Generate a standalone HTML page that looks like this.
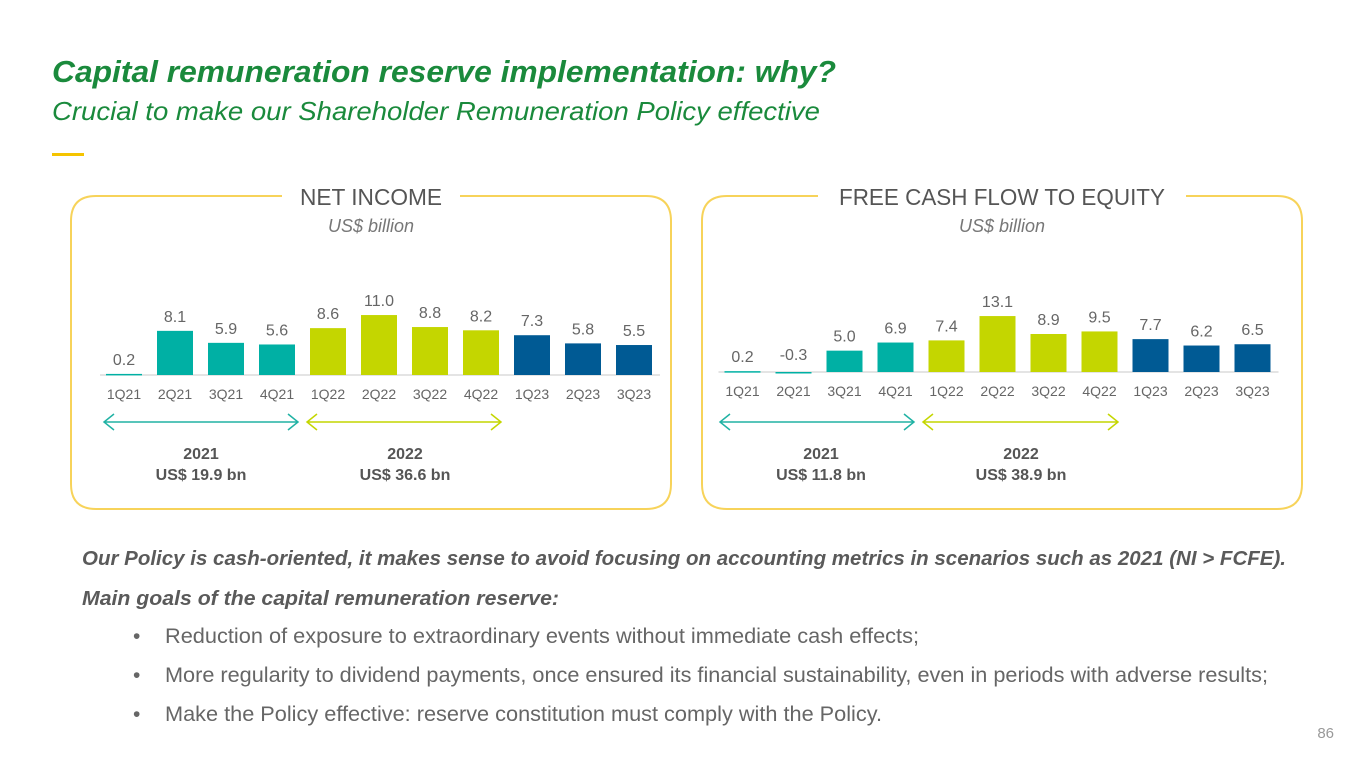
<!DOCTYPE html>
<html><head><meta charset="utf-8"><style>
html,body{margin:0;padding:0;background:#fff;}
svg{display:block;font-family:"Liberation Sans",sans-serif;}
</style></head><body>
<svg id="page" width="1370" height="771" viewBox="0 0 1370 771">
<text x="52" y="82" font-size="31" font-weight="bold" font-style="italic" fill="#1a8a3c" textLength="784" lengthAdjust="spacingAndGlyphs">Capital remuneration reserve implementation: why?</text>
<text x="52" y="120" font-size="26" font-style="italic" fill="#1a8a3c" textLength="768" lengthAdjust="spacingAndGlyphs">Crucial to make our Shareholder Remuneration Policy effective</text>
<rect x="52" y="153" width="32" height="3" fill="#f5c400"/>

<g id="ni">
<path d="M282 196 H96 Q71 196 71 221 V484 Q71 509 96 509 H646 Q671 509 671 484 V221 Q671 196 646 196 H460" fill="none" stroke="#f7d35a" stroke-width="2"/>
<text x="371" y="205" font-size="23" fill="#555" text-anchor="middle" textLength="142" lengthAdjust="spacingAndGlyphs">NET INCOME</text>
<text x="371" y="232" font-size="18" font-style="italic" fill="#777" text-anchor="middle">US$ billion</text>
</g>
<g id="fc">
<path d="M818 196 H727 Q702 196 702 221 V484 Q702 509 727 509 H1277 Q1302 509 1302 484 V221 Q1302 196 1277 196 H1186" fill="none" stroke="#f7d35a" stroke-width="2"/>
<text x="1002" y="205" font-size="23" fill="#555" text-anchor="middle" textLength="326" lengthAdjust="spacingAndGlyphs">FREE CASH FLOW TO EQUITY</text>
<text x="1002" y="232" font-size="18" font-style="italic" fill="#777" text-anchor="middle">US$ billion</text>
</g>

<g>
<g stroke="#20b2a4" stroke-width="1.5" fill="none"><path d="M104 422 H298 M114 414 L104 422 L114 430 M288 414 L298 422 L288 430"/></g>
<g stroke="#c4d600" stroke-width="1.5" fill="none"><path d="M307 422 H501 M317 414 L307 422 L317 430 M491 414 L501 422 L491 430"/></g>
<g stroke="#20b2a4" stroke-width="1.5" fill="none"><path d="M720 422 H914 M730 414 L720 422 L730 430 M904 414 L914 422 L904 430"/></g>
<g stroke="#c4d600" stroke-width="1.5" fill="none"><path d="M923 422 H1118 M933 414 L923 422 L933 430 M1108 414 L1118 422 L1108 430"/></g>
<g font-size="16" font-weight="bold" fill="#555" text-anchor="middle">
<text x="201" y="459">2021</text>
<text x="201" y="480">US$ 19.9 bn</text>
<text x="405" y="459">2022</text>
<text x="405" y="480">US$ 36.6 bn</text>
<text x="821" y="459">2021</text>
<text x="821" y="480">US$ 11.8 bn</text>
<text x="1021" y="459">2022</text>
<text x="1021" y="480">US$ 38.9 bn</text>
</g>
</g>

<g font-size="20" font-weight="bold" font-style="italic" fill="#5a5a5a">
<text x="82" y="565" textLength="1204" lengthAdjust="spacingAndGlyphs">Our Policy is cash-oriented, it makes sense to avoid focusing on accounting metrics in scenarios such as 2021 (NI &gt; FCFE).</text>
<text x="82" y="605" textLength="477" lengthAdjust="spacingAndGlyphs">Main goals of the capital remuneration reserve:</text>
</g>
<g font-size="21" fill="#666">
<text x="133" y="643">•</text>
<text x="165" y="643" textLength="754" lengthAdjust="spacingAndGlyphs">Reduction of exposure to extraordinary events without immediate cash effects;</text>
<text x="133" y="682">•</text>
<text x="165" y="682" textLength="1103" lengthAdjust="spacingAndGlyphs">More regularity to dividend payments, once ensured its financial sustainability, even in periods with adverse results;</text>
<text x="133" y="721">•</text>
<text x="165" y="721" textLength="717" lengthAdjust="spacingAndGlyphs">Make the Policy effective: reserve constitution must comply with the Policy.</text>
</g>
<text x="1334" y="738" font-size="15" fill="#999" text-anchor="end">86</text>
</svg>
<script>
const categories = ["1Q21","2Q21","3Q21","4Q21","1Q22","2Q22","3Q22","4Q22","1Q23","2Q23","3Q23"];
const netIncome = [0.2,8.1,5.9,5.6,8.6,11.0,8.8,8.2,7.3,5.8,5.5];
const fcfe = [0.2,-0.3,5.0,6.9,7.4,13.1,8.9,9.5,7.7,6.2,6.5];
const niLabels = ["0.2","8.1","5.9","5.6","8.6","11.0","8.8","8.2","7.3","5.8","5.5"];
const fcfeLabels = ["0.2","-0.3","5.0","6.9","7.4","13.1","8.9","9.5","7.7","6.2","6.5"];
const yearColors = {"21":"#00b0a4","22":"#c4d600","23":"#005a94"};
const NS = "http://www.w3.org/2000/svg";
const svg = document.getElementById('page');

function drawChart(vals, labels, opt, prefix) {
  const g = document.createElementNS(NS, 'g');
  
  
  svg.appendChild(g);
  const x = i => opt.x0 + i * opt.step;
  const y = v => opt.base - v * opt.scale;
  const ax = document.createElementNS(NS, 'line');
  ax.setAttribute('x1', opt.x0 - 24); ax.setAttribute('x2', x(categories.length - 1) + 26);
  ax.setAttribute('y1', opt.base); ax.setAttribute('y2', opt.base);
  ax.setAttribute('stroke', '#c8c8c8'); ax.setAttribute('stroke-width', '1');
  
  
  g.appendChild(ax);
  vals.forEach((v, i) => {
    const r = document.createElementNS(NS, 'rect');
    const top = Math.min(y(v), opt.base), h = Math.abs(y(v) - opt.base);
    r.setAttribute('x', x(i) - 18); r.setAttribute('width', 36);
    r.setAttribute('y', top); r.setAttribute('height', Math.max(h, 1.5));
    r.setAttribute('fill', yearColors[categories[i].slice(2)]);
    
    
    g.appendChild(r);
    const t = document.createElementNS(NS, 'text');
    t.setAttribute('x', x(i)); t.setAttribute('y', Math.min(y(Math.max(v, 0)), opt.base) - (v < 0 ? 12 : 9));
    t.setAttribute('text-anchor', 'middle'); t.setAttribute('font-size', '16'); t.setAttribute('fill', '#666');
    t.textContent = labels[i];
    
    
    g.appendChild(t);
    const c = document.createElementNS(NS, 'text');
    c.setAttribute('x', x(i)); c.setAttribute('y', opt.base + 24);
    c.setAttribute('text-anchor', 'middle'); c.setAttribute('font-size', '14'); c.setAttribute('fill', '#666');
    c.textContent = categories[i];
    
    
    g.appendChild(c);
  });
}
drawChart(netIncome, niLabels, {x0:124, step:51, base:375, scale:5.45}, 'net-income');
drawChart(fcfe, fcfeLabels, {x0:742.5, step:51, base:372, scale:4.27}, 'fcfe');
</script>
</body></html>
